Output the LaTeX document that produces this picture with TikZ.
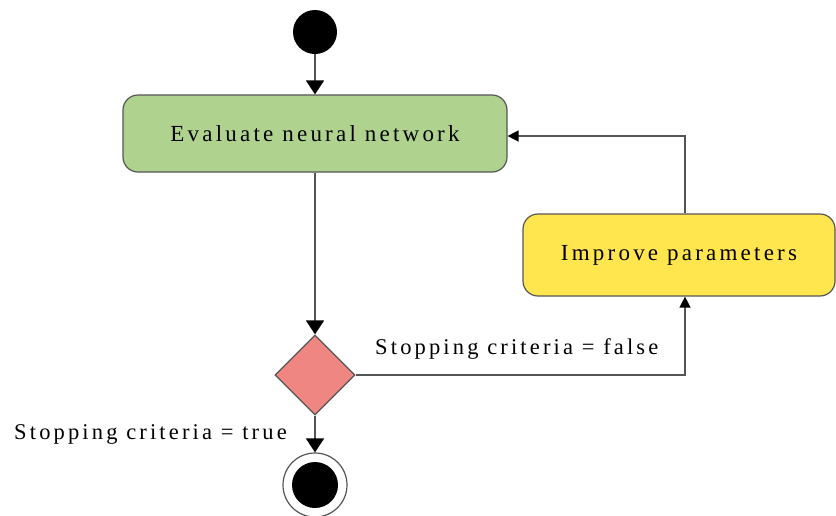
\documentclass[tikz,border=0pt]{standalone}
\usepackage{fontspec}
\setmainfont{Liberation Serif}[LetterSpace=14]
\usetikzlibrary{shapes.geometric,arrows.meta}
\definecolor{actgreen}{HTML}{B0D28F}
\definecolor{actyellow}{HTML}{FFE64F}
\definecolor{decred}{HTML}{F08682}
\definecolor{lineg}{HTML}{555555}
\tikzset{
  conn/.style={draw=lineg, line width=1.4pt},
  bigarrow/.style={conn, -{Triangle[width=18pt,length=14pt,color=black]}},
  smallarrow/.style={conn, -{Triangle[width=11pt,length=11pt,color=black]}},
  activity/.style={rectangle, rounded corners=15pt, draw=lineg, line width=1.2pt, font=\fontsize{23}{26}\selectfont, inner sep=0pt},
  decision/.style={diamond, aspect=1, draw=lineg, line width=1.2pt, fill=decred, minimum width=80pt, minimum height=80pt, inner sep=0pt},
  lbl/.style={font=\fontsize{22.5}{26}\selectfont, inner sep=0pt}
}
\begin{document}
\begin{tikzpicture}[x=1pt,y=-1pt]
\useasboundingbox (0,0) rectangle (836,515);
\node[circle, fill=black, minimum size=44pt, inner sep=0pt] (start) at (315,32) {};
\node[activity, fill=actgreen, minimum width=384pt, minimum height=77pt] (eval) at (315,133.5) {Evaluate neural network};
\node[decision] (dia) at (315,375) {};
\node[activity, fill=actyellow, minimum width=312pt, minimum height=82pt] (improve) at (679,255) {Improve parameters};
\node[circle, draw=lineg, line width=1.2pt, fill=white, minimum size=64pt, inner sep=0pt] (final) at (315,485) {};
\node[circle, fill=black, minimum size=46pt, inner sep=0pt] (finaldot) at (final.center) {};

\draw[bigarrow] (start) -- (eval);
\draw[bigarrow] (eval) -- (dia);
\draw[bigarrow] (dia) -- (final);
\draw[smallarrow] (dia.east) -| ([xshift=6pt]improve.south);
\draw[smallarrow] ([xshift=6pt]improve.north) |- ([yshift=-2.5pt]eval.east);

\node[lbl, anchor=base west] (lfalse) at (375,354) {Stopping criteria = false};
\node[lbl, anchor=base west] (ltrue) at (14,439) {Stopping criteria = true};
\end{tikzpicture}
\end{document}
